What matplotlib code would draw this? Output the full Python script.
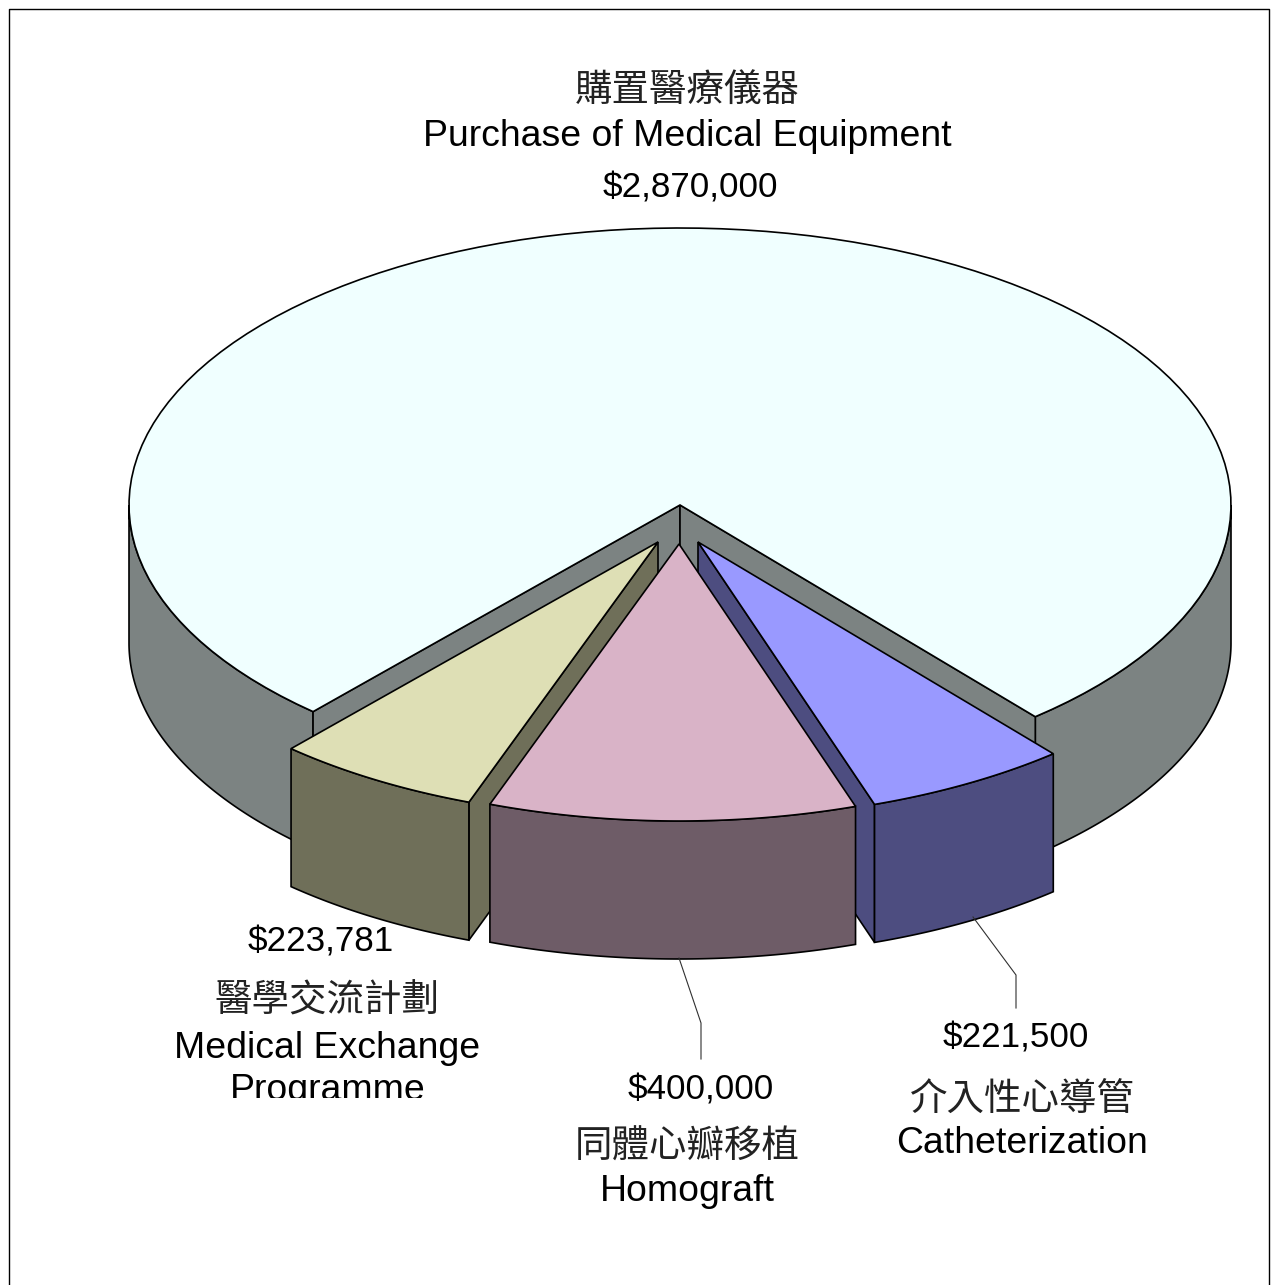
import numpy as np
import matplotlib
matplotlib.use('Agg')
import matplotlib.pyplot as plt
from matplotlib.patches import Polygon, Rectangle

LATIN = ['Liberation Sans', 'DejaVu Sans']
CJK = ['Noto Sans CJK TC', 'DejaVu Sans']

# clockwise from the right end of the big slice's cut
names = ['Catheterization', 'Homograft', 'Medical Exchange', 'Purchase of Medical Equipment']
values = [221500, 400000, 223781, 2870000]
top_colors = ['#9999FF', '#D9B3C7', '#DEDFB5', '#F0FFFF']
side_colors = ['#4D4D80', '#6E5C67', '#6F6F59', '#7C8382']

# how far each slice is pulled out of the pie, in pixels
offset_x = [18, -1, -22, 0]
offset_y = [37, 39, 37, 0]

cx, cy = 680, 505
rx, ry = 551, 277
depth = 138
start = 40.15
edge_lw = 1.2

fig = plt.figure(figsize=(12.74, 12.85), dpi=100)
ax = fig.add_axes([0, 0, 1, 1])
ax.set_xlim(0, 1274)
ax.set_ylim(1285, 0)
ax.axis('off')


def rim(t1, t2, dx=0, dy=0, n=120):
    t = np.radians(np.linspace(t1, t2, n))
    return np.column_stack((cx + dx + rx * np.sin(t), cy + dy + ry * np.cos(t)))


def draw_side(t1, t2, color, dx=0, dy=0):
    arc = rim(t1, t2, dx, dy)
    low = arc[::-1] + [0, depth]
    ax.add_patch(Polygon(np.vstack((arc, low)), closed=True, fc=color, ec='black', lw=edge_lw))


def draw_wall(t, color, dx=0, dy=0):
    p = rim(t, t, dx, dy, 1)[0]
    a = [cx + dx, cy + dy]
    pts = [a, p, [p[0], p[1] + depth], [a[0], a[1] + depth]]
    ax.add_patch(Polygon(pts, closed=True, fc=color, ec='black', lw=edge_lw))


def draw_top(t1, t2, color, dx=0, dy=0):
    pts = np.vstack(([[cx + dx, cy + dy]], rim(t1, t2, dx, dy)))
    ax.add_patch(Polygon(pts, closed=True, fc=color, ec='black', lw=edge_lw))


sweep = np.array(values) / sum(values) * 360
edges = start - np.concatenate(([0], np.cumsum(sweep)))

# big slice first
draw_side(edges[3], -90, side_colors[3])
draw_side(edges[0], 90, side_colors[3])
draw_wall(edges[3], side_colors[3])
draw_wall(edges[0], side_colors[3])
draw_top(edges[3], edges[4], top_colors[3])

# medical exchange
draw_wall(edges[2], side_colors[2], offset_x[2], offset_y[2])
draw_side(edges[2], edges[3], side_colors[2], offset_x[2], offset_y[2])
draw_top(edges[2], edges[3], top_colors[2], offset_x[2], offset_y[2])

# catheterization
draw_wall(edges[1], side_colors[0], offset_x[0], offset_y[0])
draw_side(edges[0], edges[1], side_colors[0], offset_x[0], offset_y[0])
draw_top(edges[0], edges[1], top_colors[0], offset_x[0], offset_y[0])

# homograft in front
draw_side(edges[1], edges[2], side_colors[1], offset_x[1], offset_y[1])
draw_top(edges[1], edges[2], top_colors[1], offset_x[1], offset_y[1])

# leader lines
ax.plot([679, 701, 701], [958, 1023, 1059], color='#303030', lw=0.8)
ax.plot([973, 1016, 1016], [917, 975, 1008], color='#303030', lw=0.8)

# frame, runs off the bottom of the picture
ax.plot([9, 9, 1269, 1269], [1290, 9, 9, 1290], color='black', lw=1.0)

name_texts = ['Purchase of Medical Equipment', 'Medical Exchange', 'Homograft', 'Catheterization']
name_x = [687, 327, 687, 1022]
name_y = [146, 1058, 1201, 1153]
amount_texts = ['$2,870,000', '$223,781', '$400,000', '$221,500']
amount_x = [690, 321, 701, 1016]
amount_y = [198, 951, 1099, 1048]
cjk_texts = ['購置醫療儀器', '醫學交流計劃', '同體心瓣移植', '介入性心導管']
cjk_x = [687, 327, 687, 1022]
cjk_y = [90, 1001, 1147, 1099]

for s, x, y in zip(name_texts, name_x, name_y):
    ax.text(x, y, s, family=LATIN, fontsize=26.9, ha='center', va='baseline', color='black')

for s, x, y in zip(amount_texts, amount_x, amount_y):
    ax.text(x, y, s.replace('$', r'\$'), family=LATIN, fontsize=25.2, ha='center', va='baseline', color='black')

for s, x, y in zip(cjk_texts, cjk_x, cjk_y):
    ax.text(x, y, s, family=CJK, fontsize=27, ha='center', va='center', color='#222222')

# last line of this label is cut off in the original
t = ax.text(328, 1100, 'Programme', family=LATIN, fontsize=26.9, ha='center', va='baseline', color='black')
t.set_clip_path(Rectangle((0, 0), 1274, 1098, transform=ax.transData))
t.set_clip_on(True)

fig.savefig('out.png', dpi=100, facecolor='white')
